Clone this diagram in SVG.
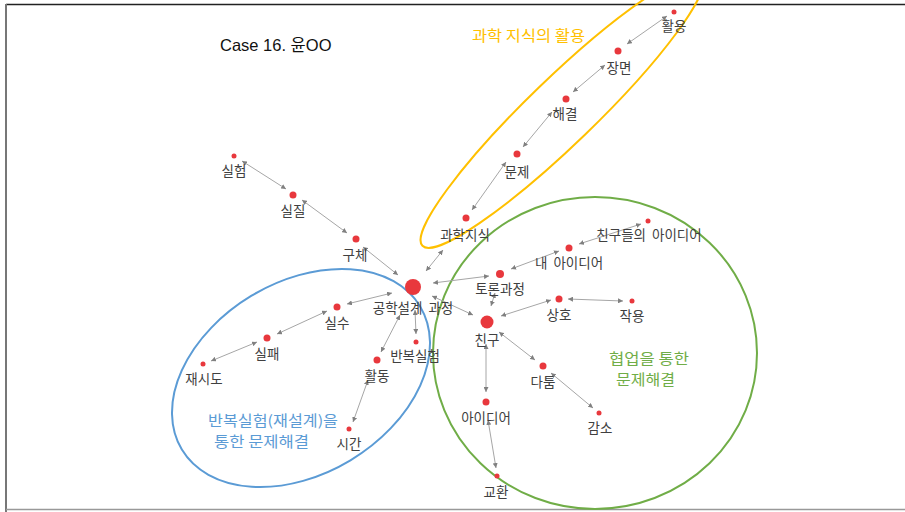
<svg xmlns="http://www.w3.org/2000/svg" width="905" height="512" viewBox="0 0 905 512">
<style>
.lbl{font-family:"Noto Sans CJK KR","Noto Sans",sans-serif;font-size:13.5px;fill:#404040;text-anchor:middle;word-spacing:3px}
.dot{fill:#e8383d}
.edge{stroke:#a6a6a6;stroke-width:1;fill:none;marker-start:url(#ah);marker-end:url(#ah)}
.grp{fill:none;stroke-width:2}
.gt{font-family:"Noto Sans CJK KR",sans-serif}
</style>
<defs>
<marker id="ah" viewBox="0 0 6 6" refX="6" refY="3" markerWidth="5" markerHeight="5" markerUnits="userSpaceOnUse" orient="auto-start-reverse">
<path d="M0,0 L6,3 L0,6 Z" fill="#808080"/>
</marker>
</defs>
<rect width="905" height="512" fill="#fff"/>
<g id="frame">
<line x1="6" y1="4.5" x2="905" y2="4.5" stroke="#222" stroke-width="1.5"/>
<line x1="6" y1="4" x2="6" y2="512" stroke="#777" stroke-width="2"/>
<line x1="6" y1="509.5" x2="905" y2="509.5" stroke="#999" stroke-width="1.5"/>
</g>
<text id="title" x="220" y="51" font-family="Liberation Sans,'Noto Sans CJK KR',sans-serif" font-size="16.5" fill="#111">Case 16. 윤OO</text>
<g id="groups">
<ellipse id="g-orange" class="grp" cx="562" cy="111" rx="194" ry="33" transform="rotate(-44 562 111)" stroke="#ffc000"/>
<ellipse id="g-blue" class="grp" cx="301" cy="378" rx="139" ry="96" transform="rotate(-31 301 378)" stroke="#5b9bd5"/>
<ellipse id="g-green" class="grp" cx="595" cy="353" rx="162" ry="156" stroke="#70ad47"/>
<text class="gt" x="472" y="41" font-size="15" fill="#ffc000" textLength="113" lengthAdjust="spacingAndGlyphs">과학 지식의 활용</text>
<text class="gt" x="609" y="363.5" font-size="14.5" fill="#70ad47" textLength="80" lengthAdjust="spacingAndGlyphs">협업을 통한</text>
<text class="gt" x="616" y="384.5" font-size="14.5" fill="#70ad47" textLength="59" lengthAdjust="spacingAndGlyphs">문제해결</text>
<text class="gt" x="208" y="426" font-size="14.5" fill="#5b9bd5" textLength="130" lengthAdjust="spacingAndGlyphs">반복실험(재설계)을</text>
<text class="gt" x="214" y="447" font-size="14.5" fill="#5b9bd5" textLength="95" lengthAdjust="spacingAndGlyphs">통한 문제해결</text>
</g>
<g id="connectors">
<line class="edge" x1="242" y1="161" x2="286" y2="189"/>
<line class="edge" x1="302" y1="200" x2="347" y2="233"/>
<line class="edge" x1="363" y1="247" x2="398" y2="275"/>
<line class="edge" x1="667" y1="16" x2="627" y2="44"/>
<line class="edge" x1="605" y1="65" x2="573" y2="92"/>
<line class="edge" x1="552" y1="112" x2="523" y2="147"/>
<line class="edge" x1="506" y1="162" x2="472" y2="210"/>
<line class="edge" x1="443" y1="250" x2="426" y2="271"/>
<line class="edge" x1="489" y1="276" x2="433" y2="283"/>
<line class="edge" x1="559" y1="251" x2="511" y2="269"/>
<line class="edge" x1="641" y1="224" x2="579" y2="244"/>
<line class="edge" x1="495" y1="293" x2="491" y2="306"/>
<line class="edge" x1="432" y1="296" x2="473" y2="315"/>
<line class="edge" x1="551" y1="300" x2="501" y2="316"/>
<line class="edge" x1="568" y1="299" x2="623" y2="301"/>
<line class="edge" x1="499" y1="332" x2="535" y2="360"/>
<line class="edge" x1="551" y1="373" x2="593" y2="408"/>
<line class="edge" x1="486" y1="344" x2="486" y2="392"/>
<line class="edge" x1="488" y1="420" x2="496" y2="468"/>
<line class="edge" x1="392" y1="293" x2="347" y2="304"/>
<line class="edge" x1="327" y1="311" x2="277" y2="334"/>
<line class="edge" x1="257" y1="342" x2="211" y2="361"/>
<line class="edge" x1="415" y1="310" x2="416" y2="334"/>
<line class="edge" x1="400" y1="315" x2="381" y2="352"/>
<line class="edge" x1="368" y1="380" x2="353" y2="422"/>
</g>
<g id="n-silheom"><circle class="dot" cx="234" cy="156" r="2.5"/><text class="lbl" x="234" y="176">실험</text></g>
<g id="n-siljil"><circle class="dot" cx="293" cy="195" r="3.5"/><text class="lbl" x="293" y="216">실질</text></g>
<g id="n-guche"><circle class="dot" cx="356" cy="239" r="3.5"/><text class="lbl" x="355" y="260">구체</text></g>
<g id="n-gonghak"><circle class="dot" cx="413" cy="287" r="8"/><text class="lbl" x="413" y="313">공학설계 과정</text></g>
<g id="n-gwahak"><circle class="dot" cx="466" cy="218" r="3.5"/><text class="lbl" x="465" y="240">과학지식</text></g>
<g id="n-munje"><circle class="dot" cx="517" cy="154" r="3.5"/><text class="lbl" x="517" y="177">문제</text></g>
<g id="n-haegyeol"><circle class="dot" cx="566" cy="99" r="3.5"/><text class="lbl" x="565" y="119">해결</text></g>
<g id="n-jangmyeon"><circle class="dot" cx="618" cy="51" r="3.5"/><text class="lbl" x="619" y="73">장면</text></g>
<g id="n-hwalyong"><circle class="dot" cx="674" cy="12" r="2.5"/><text class="lbl" x="674" y="31">활용</text></g>
<g id="n-friends-idea"><circle class="dot" cx="648" cy="221" r="2.5"/><text class="lbl" x="649" y="240">친구들의 아이디어</text></g>
<g id="n-my-idea"><circle class="dot" cx="569" cy="248" r="3.5"/><text class="lbl" x="569" y="268">내 아이디어</text></g>
<g id="n-toron"><circle class="dot" cx="500" cy="274" r="4"/><text class="lbl" x="500" y="294">토론과정</text></g>
<g id="n-sangho"><circle class="dot" cx="559" cy="299" r="3.5"/><text class="lbl" x="559" y="320">상호</text></g>
<g id="n-jagyong"><circle class="dot" cx="632" cy="301" r="2.5"/><text class="lbl" x="632" y="321">작용</text></g>
<g id="n-chingu"><circle class="dot" cx="487" cy="322" r="6.5"/><text class="lbl" x="487" y="345">친구</text></g>
<g id="n-datum"><circle class="dot" cx="543" cy="366" r="3.5"/><text class="lbl" x="543" y="387">다툼</text></g>
<g id="n-gamso"><circle class="dot" cx="599" cy="413" r="2.5"/><text class="lbl" x="600" y="433">감소</text></g>
<g id="n-idea"><circle class="dot" cx="486" cy="402" r="3.5"/><text class="lbl" x="486" y="423">아이디어</text></g>
<g id="n-gyohwan"><circle class="dot" cx="497" cy="476" r="2.5"/><text class="lbl" x="496" y="497">교환</text></g>
<g id="n-silsu"><circle class="dot" cx="337" cy="307" r="3.5"/><text class="lbl" x="337" y="328">실수</text></g>
<g id="n-silpae"><circle class="dot" cx="267" cy="338" r="3.5"/><text class="lbl" x="267" y="359">실패</text></g>
<g id="n-jaesido"><circle class="dot" cx="203" cy="364" r="2.5"/><text class="lbl" x="204" y="384">재시도</text></g>
<g id="n-banbok"><circle class="dot" cx="416" cy="342" r="2.5"/><text class="lbl" x="415" y="361">반복실험</text></g>
<g id="n-hwaldong"><circle class="dot" cx="377" cy="360" r="3.5"/><text class="lbl" x="377" y="381">활동</text></g>
<g id="n-sigan"><circle class="dot" cx="349" cy="429" r="2.5"/><text class="lbl" x="349" y="449">시간</text></g>
</svg>
